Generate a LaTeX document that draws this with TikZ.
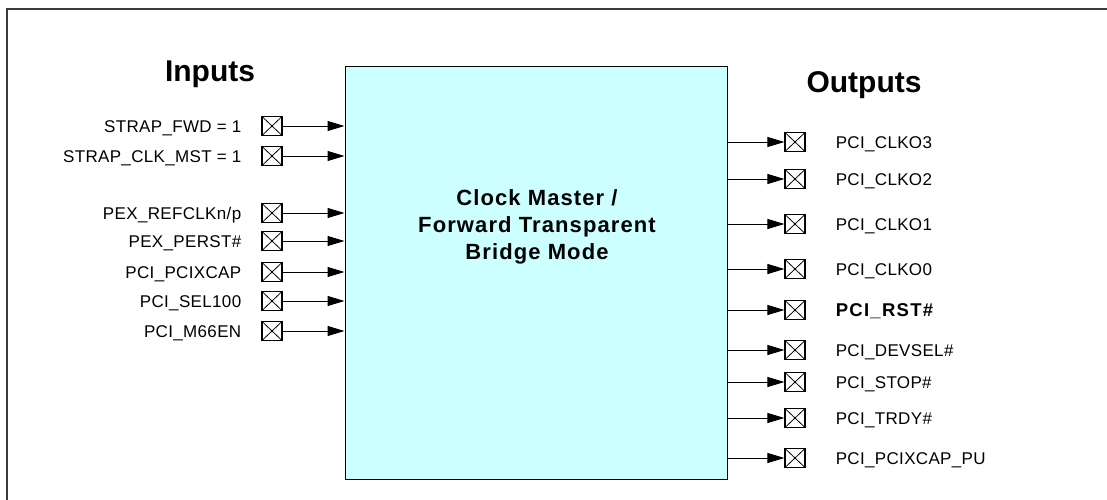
\documentclass[tikz,border=0pt]{standalone}
\usepackage{fontspec}
\setmainfont{Liberation Sans}
\newfontfamily\sigfont[LetterSpace=2]{Liberation Sans}
\newfontfamily\widefont[LetterSpace=5]{Liberation Sans}
\newfontfamily\rstfont[LetterSpace=7]{Liberation Sans}
\usetikzlibrary{arrows.meta,positioning,calc}
\definecolor{bridgefill}{RGB}{204,255,255}
\definecolor{framegray}{RGB}{60,60,60}

\tikzset{
  pad/.style={draw,line width=1.1pt,minimum width=20pt,minimum height=19pt,inner sep=0pt,
    path picture={\draw[line width=0.8pt] (path picture bounding box.south west) -- (path picture bounding box.north east)
      (path picture bounding box.north west) -- (path picture bounding box.south east);}},
  sig/.style={inner sep=0pt,text height=12pt,text depth=0pt,font=\sigfont\fontsize{17}{20}\selectfont},
  sigbold/.style={inner sep=0pt,text height=13pt,text depth=0pt,font=\rstfont\bfseries\fontsize{18.5}{22}\selectfont},
  wire/.style={line width=1pt,-{Triangle[length=17pt,width=10pt]}},
  title/.style={anchor=base,font=\bfseries\fontsize{30}{36}\selectfont}
}

\begin{document}
\begin{tikzpicture}[x=1pt,y=-1pt]
  \useasboundingbox (0,0) rectangle (1107,500);
  \draw[line width=1.5pt,framegray] (7,500) -- (7,9) -- (1107,9);

  \node[draw,fill=bridgefill,line width=1pt,minimum width=382pt,minimum height=412pt,inner sep=0pt] (bridge) at (536,273) {};
  \node[align=center,font=\widefont\bfseries\fontsize{22}{27}\selectfont] (mode) at (537,227) {Clock Master /\\Forward Transparent\\Bridge Mode};

  \node[title] (intitle) at (210,82) {Inputs};
  \node[title] (outtitle) at (864,93) {Outputs};

  % inputs
  \foreach \y/\n/\txt in {126/fwd/STRAP\_FWD = 1,156/clkmst/STRAP\_CLK\_MST = 1,213/refclk/{PEX\_REFCLKn/p},
      241/perst/PEX\_PERST\#,272/pcixcap/PCI\_PCIXCAP,301/sel/PCI\_SEL100,331/m66/PCI\_M66EN}{
    \node[pad] (\n) at (272,\y) {};
    \node[sig,left=20pt of \n] (\n-lbl) {\txt};
    \draw[wire] (\n) -- (\n -| bridge.west);
  }

  % outputs
  \foreach \y/\n/\txt/\st in {142/clko3/PCI\_CLKO3/sig,179/clko2/PCI\_CLKO2/sig,224/clko1/PCI\_CLKO1/sig,
      269/clko0/PCI\_CLKO0/sig,310/rst/PCI\_RST\#/sigbold,350/devsel/PCI\_DEVSEL\#/sig,382/stop/PCI\_STOP\#/sig,
      418/trdy/PCI\_TRDY\#/sig,458/pu/PCI\_PCIXCAP\_PU/sig}{
    \node[pad] (\n) at (795,\y) {};
    \node[\st,right=30pt of \n] (\n-lbl) {\txt};
    \draw[wire] (\n -| bridge.east) -- (\n);
  }
\end{tikzpicture}
\end{document}
